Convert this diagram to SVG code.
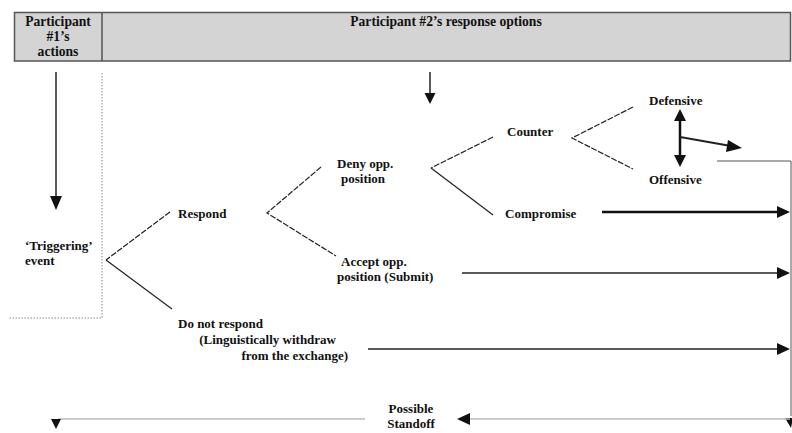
<svg xmlns="http://www.w3.org/2000/svg" width="792" height="433" viewBox="0 0 792 433">
<defs>
<style>
text{font-family:"Liberation Serif","Times New Roman",serif;font-weight:bold;font-size:13px;fill:#111}
.h{font-size:13.6px}
.hdr{fill:#d4d4d4;stroke:#555;stroke-width:1.5}
.br{stroke:#222;stroke-width:1.2;fill:none}
.dash{stroke-dasharray:6 1.5}
.ar{stroke:#222;stroke-width:1.5;fill:none}
.gray{stroke:#bbb;stroke-width:1.5;fill:none}
.dot{stroke:#888;stroke-width:1;stroke-dasharray:1.5 1.5;fill:none}
.hd{fill:#111}
</style>
</defs>
<g id="header">
<rect class="hdr" x="14.5" y="12.5" width="776" height="48.5"/>
<line x1="102" y1="12.5" x2="102" y2="61" stroke="#555" stroke-width="1.5"/>
<text class="h" x="58" y="26" text-anchor="middle">Participant</text>
<text class="h" x="58" y="41" text-anchor="middle">#1’s</text>
<text class="h" x="58" y="56" text-anchor="middle">actions</text>
<text class="h" x="446" y="26" text-anchor="middle">Participant #2’s response options</text>
</g>
<g id="boundary">
<polyline class="dot" points="102,73 102,318 8,318"/>
</g>
<g id="node-triggering"><text x="25" y="250">‘Triggering’</text><text x="25" y="265">event</text></g>
<g id="node-respond"><text x="178" y="218">Respond</text></g>
<g id="node-notrespond"><text x="178" y="328">Do not respond</text><text x="336" y="344" text-anchor="end">(Linguistically withdraw</text><text x="348" y="360" text-anchor="end">from the exchange)</text></g>
<g id="node-deny"><text x="337" y="168">Deny opp.</text><text x="341" y="183">position</text></g>
<g id="node-accept"><text x="341" y="266">Accept opp.</text><text x="337" y="281">position (Submit)</text></g>
<g id="node-counter"><text x="507" y="136">Counter</text></g>
<g id="node-compromise"><text x="505" y="218">Compromise</text></g>
<g id="node-defensive"><text x="649" y="105">Defensive</text></g>
<g id="node-offensive"><text x="649" y="184">Offensive</text></g>
<g id="node-standoff"><text x="411" y="413" text-anchor="middle">Possible</text><text x="411" y="428" text-anchor="middle">Standoff</text></g>
<g id="connectors">
<polyline class="br dash" points="170,212 106,260"/>
<polyline class="br" points="106,260 172,309"/>
<polyline class="br dash" points="321,167 267,213 336,256"/>
<polyline class="br dash" points="493,137 431,168"/>
<polyline class="br" points="431,168 493,215"/>
<polyline class="br dash" points="633,107 572,138 633,169"/>
<line class="ar" x1="56" y1="72" x2="56" y2="198"/>
<polygon class="hd" points="50,196 62,196 56,210"/>
<line class="ar" x1="430" y1="72" x2="430" y2="94"/>
<polygon class="hd" points="424.5,93 435.5,93 430,104"/>
<line x1="680" y1="118" x2="680" y2="158" stroke="#111" stroke-width="2.5"/>
<polygon class="hd" points="674,121 686,121 680,109"/>
<polygon class="hd" points="674,155 686,155 680,167"/>
<line x1="680" y1="137" x2="731" y2="146" stroke="#222" stroke-width="1.8"/>
<polygon class="hd" points="742,148 728,140 726,152"/>
<polyline points="717,161 791,161 791,416" stroke="#555" stroke-width="1" fill="none"/>
<line x1="602" y1="212" x2="779" y2="212" stroke="#111" stroke-width="2.5"/>
<polygon class="hd" points="790,212 777,206 777,218"/>
<line class="ar" x1="462" y1="273" x2="779" y2="273"/>
<polygon class="hd" points="790,273 777,267 777,279"/>
<line class="ar" x1="368" y1="349" x2="779" y2="349"/>
<polygon class="hd" points="790,349 777,343 777,355"/>
<polygon class="hd" points="785,418 793,418 791,428"/>
<line class="gray" x1="790" y1="419" x2="468" y2="419"/>
<polygon class="hd" points="457,419 470,413 470,425"/>
<line class="gray" x1="365" y1="419" x2="58" y2="419"/>
<polygon class="hd" points="51,419 61,419 56,429"/>
</g>
</svg>
